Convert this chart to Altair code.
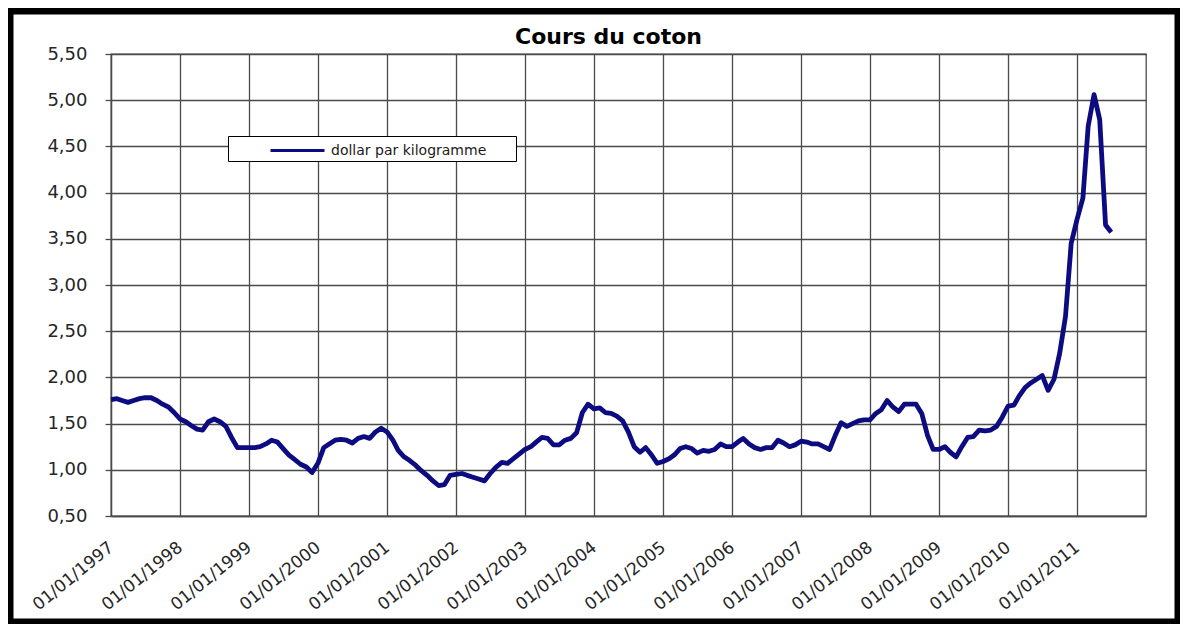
import altair as alt
import pandas as pd

# Monthly cotton price, dollar per kilogram, Jan 1997 .. Jul 2011
v1997 = [1.76, 1.77, 1.75, 1.73, 1.75, 1.77, 1.78, 1.78, 1.75, 1.71, 1.68, 1.62]
v1998 = [1.55, 1.52, 1.48, 1.44, 1.43, 1.52, 1.55, 1.52, 1.47, 1.35, 1.24, 1.24]
v1999 = [1.24, 1.24, 1.25, 1.28, 1.32, 1.30, 1.23, 1.16, 1.11, 1.06, 1.03, 0.97]
v2000 = [1.07, 1.24, 1.28, 1.32, 1.33, 1.32, 1.29, 1.34, 1.36, 1.34, 1.41, 1.45]
v2001 = [1.41, 1.32, 1.21, 1.14, 1.10, 1.05, 0.99, 0.94, 0.88, 0.83, 0.84, 0.94]
v2002 = [0.95, 0.96, 0.94, 0.92, 0.90, 0.88, 0.96, 1.03, 1.08, 1.07, 1.12, 1.17]
v2003 = [1.22, 1.25, 1.30, 1.35, 1.34, 1.27, 1.27, 1.32, 1.34, 1.40, 1.62, 1.71]
v2004 = [1.66, 1.67, 1.62, 1.61, 1.58, 1.53, 1.41, 1.25, 1.19, 1.24, 1.16, 1.07]
v2005 = [1.09, 1.12, 1.16, 1.23, 1.25, 1.23, 1.18, 1.21, 1.20, 1.22, 1.28, 1.25]
v2006 = [1.25, 1.30, 1.34, 1.28, 1.24, 1.22, 1.24, 1.24, 1.32, 1.29, 1.25, 1.27]
v2007 = [1.31, 1.30, 1.28, 1.28, 1.25, 1.22, 1.37, 1.51, 1.47, 1.50, 1.53, 1.54]
v2008 = [1.54, 1.61, 1.65, 1.75, 1.68, 1.63, 1.71, 1.71, 1.71, 1.61, 1.37, 1.22]
v2009 = [1.22, 1.25, 1.19, 1.14, 1.25, 1.35, 1.36, 1.43, 1.42, 1.43, 1.47, 1.57]
v2010 = [1.69, 1.70, 1.80, 1.89, 1.94, 1.98, 2.02, 1.86, 1.98, 2.26, 2.66, 3.45]
v2011 = [3.71, 3.94, 4.72, 5.06, 4.79, 3.65, 3.57]

values = (v1997 + v1998 + v1999 + v2000 + v2001 + v2002 + v2003 + v2004
          + v2005 + v2006 + v2007 + v2008 + v2009 + v2010 + v2011)
tick_years = list(range(1997, 2012))
y_ticks = [0.5, 1.0, 1.5, 2.0, 2.5, 3.0, 3.5, 4.0, 4.5, 5.0, 5.5]
series_name = "dollar par kilogramme"
title_text = "Cours du coton"

dates = pd.date_range("1997-01-01", periods=len(values), freq="MS").strftime("%Y-%m-%d")
df = pd.DataFrame({"date": list(dates), "prix": values, "serie": series_name})

FONT = "DejaVu Sans"
GRID = "#4a4a4a"
W, H = 1035, 462
PL, PT, PR, PB = 103, 46, 34, 108

line = alt.Chart(df).mark_line(strokeWidth=4.8, strokeJoin="round").encode(
    x=alt.X(
        "date:T",
        scale=alt.Scale(
            type="utc",
            domain=[alt.DateTime(year=1997, month=1, date=1, utc=True),
                    alt.DateTime(year=2012, month=1, date=1, utc=True)],
            nice=False,
        ),
        axis=alt.Axis(
            values=[alt.DateTime(year=y, month=1, date=1, utc=True) for y in tick_years],
            format="%d/%m/%Y",
            labelAngle=-39,
            labelAlign="right",
            labelBaseline="middle",
            labelPadding=29,
            labelOverlap=False,
            labelFlush=False,
            labelFont=FONT,
            labelFontSize=17,
            labelColor="#262626",
            ticks=False,
            title=None,
            grid=True,
            gridColor=GRID,
            gridWidth=1.3,
            domainColor=GRID,
            domainWidth=1.3,
        ),
    ),
    y=alt.Y(
        "prix:Q",
        scale=alt.Scale(domain=[0.5, 5.5], nice=False, zero=False),
        axis=alt.Axis(
            values=y_ticks,
            labelExpr="replace(format(datum.value, '.2f'), '.', ',')",
            tickSize=6,
            tickColor=GRID,
            tickWidth=1.3,
            labelPadding=18,
            labelFont=FONT,
            labelFontSize=18,
            labelColor="#262626",
            title=None,
            grid=True,
            gridColor=GRID,
            gridWidth=1.3,
            domainColor=GRID,
            domainWidth=1.3,
        ),
    ),
    color=alt.Color(
        "serie:N",
        scale=alt.Scale(range=["#0c0c80"]),
        legend=alt.Legend(
            title=None,
            orient="none",
            legendX=117,
            legendY=82,
            symbolType="M-2.7,0H2.7",
            symbolSize=400,
            symbolStrokeWidth=3,
            symbolOffset=55,
            labelOffset=22,
            labelLimit=400,
            padding=3,
            strokeColor="black",
            fillColor="white",
            labelFont=FONT,
            labelFontSize=14,
            labelColor="#1a1a1a",
            labelExpr="datum.label + '\u00a0\u00a0\u00a0\u00a0\u00a0\u00a0\u200b'",
        ),
    ),
)

frame = alt.Chart(pd.DataFrame({"k": [0]})).mark_rect(
    filled=False, stroke="black", strokeWidth=7
).encode(
    x=alt.value(-PL + 2),
    x2=alt.value(W + PR - 2),
    y=alt.value(-PT + 3),
    y2=alt.value(H + PB - 2),
)

chart = alt.layer(frame, line).properties(
    width=W,
    height=H,
    padding={"left": PL, "top": PT, "right": PR, "bottom": PB},
    autosize=alt.AutoSizeParams(type="none"),
    background="white",
    title=alt.TitleParams(
        title_text,
        font=FONT,
        fontSize=22,
        fontWeight="bold",
        color="black",
        anchor="middle",
        baseline="alphabetic",
        dx=-20,
        offset=-58.5,
    ),
).configure_view(stroke=GRID, strokeWidth=1.3)

chart.save("out.html", embed_options={"renderer": "svg", "actions": False})
